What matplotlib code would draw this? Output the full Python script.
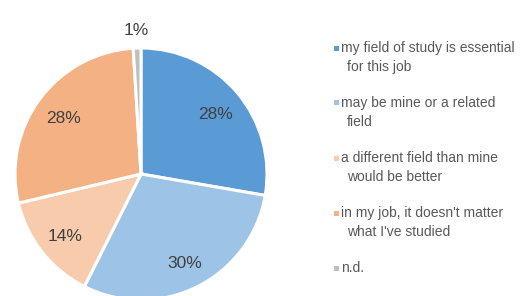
import matplotlib
matplotlib.use("Agg")
import matplotlib.pyplot as plt
from matplotlib.patches import Rectangle
import numpy as np

categories = ["my field of study is essential\nfor this job",
              "may be mine or a related\nfield",
              "a different field than mine\nwould be better",
              "in my job, it doesn't matter\nwhat I've studied",
              "n.d."]
values = [28, 30, 14, 28, 1]
pct_labels = ["28%", "30%", "14%", "28%", "1%"]
colors = ["#5B9BD5", "#9DC3E6", "#F8CBAD", "#F4B183", "#BFBFBF"]

plt.rcParams['font.family'] = ['Liberation Sans', 'DejaVu Sans']

W, H = 523, 296
fig = plt.figure(figsize=(W/100, H/100), dpi=100)
cx, cy, r = 141, 174, 126
ax = fig.add_axes([(cx - r)/W, (H - cy - r)/H, 2*r/W, 2*r/H])
wedges, _ = ax.pie(values, colors=colors, startangle=90, counterclock=False,
                   radius=1, wedgeprops=dict(edgecolor="white", linewidth=2.2))
ax.set_xlim(-1, 1)
ax.set_ylim(-1, 1)
ax.set_aspect("equal")
ax.axis("off")

for w, lab in zip(wedges, pct_labels):
    ang = np.deg2rad((w.theta1 + w.theta2) / 2)
    d = 1.16 if lab == "1%" else 0.77
    ax.text(d*np.cos(ang), d*np.sin(ang) - 0.02, lab, ha="center", va="center",
            fontsize=12.5, color="#404040", clip_on=False)

# legend (manual layout)
x_sq, x_txt, x_txt2 = 334, 341, 347
y0, pitch, line_gap = 48, 55, 19
for i, (cat, col) in enumerate(zip(categories, colors)):
    yc = y0 + i * pitch
    fig.patches.append(Rectangle((x_sq/W, 1 - (yc + 2.5)/H), 5/W, 5/H,
                                 transform=fig.transFigure, facecolor=col,
                                 edgecolor="none"))
    lines = cat.split("\n")
    for j, ln in enumerate(lines):
        fig.text((x_txt if j == 0 else x_txt2)/W, 1 - (yc + j*line_gap)/H, ln,
                 ha="left", va="center", fontsize=10, color="#595959")

fig.savefig("out.png", dpi=100)
